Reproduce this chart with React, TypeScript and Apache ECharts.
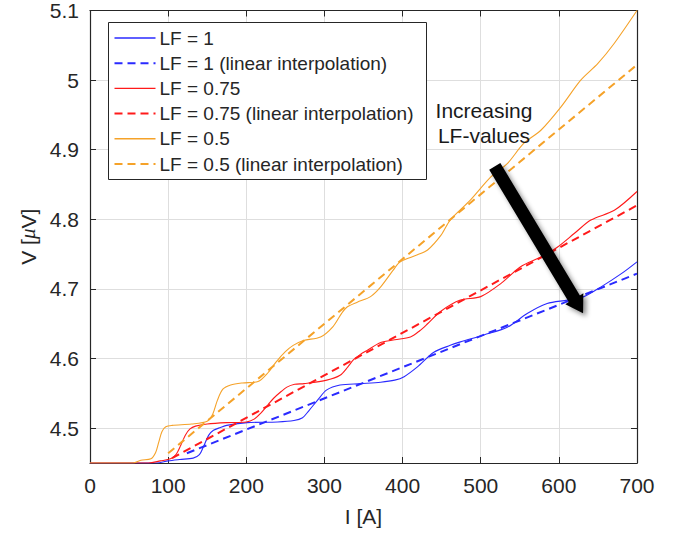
import React, { useEffect, useRef } from "react";
import * as echarts from "echarts";

// ---- data ----
const iBlue = [0, 85, 100, 115, 132, 140, 145, 152, 158, 167, 175, 201, 240, 261, 272, 280, 291, 303, 320, 346, 372, 390, 402, 419, 440, 461, 474, 504, 534, 560, 585, 611, 632, 654, 680, 700];
const vBlue = [4.45, 4.45, 4.453, 4.455, 4.457, 4.462, 4.473, 4.49, 4.497, 4.501, 4.504, 4.508, 4.509, 4.511, 4.515, 4.525, 4.54, 4.555, 4.562, 4.564, 4.566, 4.569, 4.574, 4.588, 4.609, 4.619, 4.624, 4.634, 4.645, 4.665, 4.679, 4.684, 4.689, 4.703, 4.722, 4.739];

const iRed = [0, 75, 90, 103, 110, 116, 122, 128, 135, 150, 175, 200, 210, 218, 228, 235, 245, 252, 262, 274, 303, 320, 330, 337, 346, 355, 372, 390, 410, 422, 432, 449, 474, 500, 526, 551, 577, 598, 620, 641, 671, 700];
const vRed = [4.45, 4.45, 4.453, 4.456, 4.462, 4.475, 4.49, 4.499, 4.503, 4.506, 4.508, 4.509, 4.513, 4.521, 4.534, 4.543, 4.553, 4.559, 4.563, 4.564, 4.569, 4.576, 4.588, 4.598, 4.606, 4.612, 4.623, 4.627, 4.631, 4.64, 4.65, 4.668, 4.684, 4.689, 4.708, 4.732, 4.746, 4.76, 4.78, 4.799, 4.813, 4.84];

const iOrange = [0, 55, 65, 78, 84, 88, 92, 97, 105, 130, 150, 157, 163, 170, 180, 195, 215, 228, 238, 250, 260, 273, 295, 311, 322, 329, 342, 359, 372, 388, 397, 419, 432, 449, 461, 487, 513, 534, 555, 577, 603, 628, 650, 671, 700];
const vOrange = [4.45, 4.45, 4.454, 4.456, 4.465, 4.48, 4.495, 4.502, 4.504, 4.506, 4.51, 4.52, 4.54, 4.556, 4.562, 4.565, 4.567, 4.58, 4.595, 4.61, 4.619, 4.626, 4.631, 4.646, 4.665, 4.674, 4.681, 4.689, 4.703, 4.727, 4.739, 4.749, 4.756, 4.777, 4.799, 4.828, 4.861, 4.88, 4.909, 4.928, 4.962, 5.0, 5.024, 5.053, 5.1];

const iBlueLin = [124, 700];
const vBlueLin = [4.464, 4.722];
const iRedLin = [105, 700];
const vRedLin = [4.457, 4.82];
const iOrangeLin = [100, 700];
const vOrangeLin = [4.464, 5.022];

const yTicks = [4.5, 4.6, 4.7, 4.8, 4.9, 5.0, 5.1];
const seriesNames = [
  "LF = 1",
  "LF = 1 (linear interpolation)",
  "LF = 0.75",
  "LF = 0.75 (linear interpolation)",
  "LF = 0.5",
  "LF = 0.5 (linear interpolation)",
];
const annotationLines = ["Increasing", "LF-values"];
// arrow in data coordinates [I, V]
const arrowTail = [518, 4.876];
const arrowTip = [631, 4.665];

const BLUE = "#2a2aff";
const RED = "#ff1a1a";
const ORANGE = "#f5a229";
const FONT = "'Liberation Sans', Arial, Helvetica, sans-serif";
const TXT = "#262626";

const pairs = (xs: number[], ys: number[]) => xs.map((x, k) => [x, ys[k]]);

export default function App() {
  const ref = useRef<HTMLDivElement>(null);
  useEffect(() => {
    const chart = echarts.init(ref.current!, null, { renderer: "svg" });
    const axisLine = { show: true, onZero: false, lineStyle: { color: TXT, width: 1.2 } };
    const tick = { show: true, inside: true, length: 6, lineStyle: { color: TXT, width: 1 } };
    const grid = { lineStyle: { color: "#dedede", width: 1 } };

    const solid = (name: string, color: string, xs: number[], ys: number[]) => ({
      name,
      type: "line",
      data: pairs(xs, ys),
      symbol: "none",
      smooth: 0.3,
      lineStyle: { color, width: 1.1 },
      itemStyle: { color },
      z: 3,
    });
    const dashed = (name: string, color: string, xs: number[], ys: number[]) => ({
      name,
      type: "line",
      data: pairs(xs, ys),
      symbol: "none",
      lineStyle: { color, width: 2, type: [8, 5] },
      itemStyle: { color },
      z: 4,
    });

    chart.setOption({
      animation: false,
      backgroundColor: "#fff",
      textStyle: { fontFamily: FONT },
      grid: { left: 90, right: 44, top: 10, bottom: 77 },
      xAxis: [
        {
          type: "value",
          min: 0,
          max: 700,
          interval: 100,
          position: "bottom",
          axisLine,
          axisTick: tick,
          axisLabel: { fontSize: 21, color: TXT, margin: 12, fontFamily: FONT },
          splitLine: { show: true, ...grid },
          name: "I [A]",
          nameLocation: "middle",
          nameGap: 43,
          nameTextStyle: { fontSize: 21, color: TXT, fontFamily: FONT },
        },
        {
          type: "value",
          min: 0,
          max: 700,
          interval: 100,
          position: "top",
          axisLine,
          axisTick: tick,
          axisLabel: { show: false },
          splitLine: { show: false },
        },
      ],
      yAxis: [
        {
          type: "value",
          min: 4.45,
          max: 5.1,
          position: "left",
          axisLine,
          axisTick: { ...tick, customValues: yTicks },
          axisLabel: { customValues: yTicks, fontSize: 21, color: TXT, margin: 11, fontFamily: FONT },
          splitLine: { show: true, ...grid },
          name: "{a|V [}{b|μ}{a|V]}",
          nameLocation: "middle",
          nameGap: 50,
          nameTextStyle: {
            rich: {
              a: { fontSize: 21, color: TXT, fontFamily: FONT },
              b: { fontSize: 21, color: TXT, fontFamily: "'Liberation Serif', serif", fontStyle: "italic" },
            },
          },
        },
        {
          type: "value",
          min: 4.45,
          max: 5.1,
          position: "right",
          axisLine,
          axisTick: { ...tick, customValues: yTicks },
          axisLabel: { show: false, customValues: yTicks },
          splitLine: { show: false },
        },
      ],
      series: [
        solid(seriesNames[0], BLUE, iBlue, vBlue),
        dashed(seriesNames[1], BLUE, iBlueLin, vBlueLin),
        solid(seriesNames[2], RED, iRed, vRed),
        dashed(seriesNames[3], RED, iRedLin, vRedLin),
        solid(seriesNames[4], ORANGE, iOrange, vOrange),
        dashed(seriesNames[5], ORANGE, iOrangeLin, vOrangeLin),
      ],
    });

    // ---- legend (drawn box, MATLAB style) ----
    const colors = [BLUE, BLUE, RED, RED, ORANGE, ORANGE];
    const legendChildren: any[] = [
      {
        type: "rect",
        shape: { x: 0, y: 0, width: 318, height: 157 },
        style: { fill: "#fff", stroke: TXT, lineWidth: 1 },
      },
    ];
    seriesNames.forEach((name, k) => {
      const cy = 15.5 + k * 25.2;
      const isDash = k % 2 === 1;
      legendChildren.push({
        type: "line",
        shape: { x1: 6, y1: cy, x2: 47, y2: cy },
        style: { stroke: colors[k], lineWidth: isDash ? 2 : 1.4, lineDash: isDash ? [8, 5] : null },
      });
      legendChildren.push({
        type: "text",
        x: 51,
        y: cy,
        style: { text: name, fontSize: 19, fontFamily: FONT, fill: TXT, verticalAlign: "middle", align: "left" },
      });
    });

    // ---- arrow ----
    const t = chart.convertToPixel({ gridIndex: 0 }, arrowTail) as number[];
    const p = chart.convertToPixel({ gridIndex: 0 }, arrowTip) as number[];
    const dx = p[0] - t[0];
    const dy = p[1] - t[1];
    const len = Math.hypot(dx, dy);
    const ux = dx / len, uy = dy / len;
    const nx = -uy, ny = ux;
    const hw = 6.5, hh = 10.5, hl = 17;
    const bx = p[0] - ux * hl, by = p[1] - uy * hl;
    const arrowPts = [
      [t[0] + nx * hw, t[1] + ny * hw],
      [bx + nx * hw, by + ny * hw],
      [bx + nx * hh, by + ny * hh],
      [p[0], p[1]],
      [bx - nx * hh, by - ny * hh],
      [bx - nx * hw, by - ny * hw],
      [t[0] - nx * hw, t[1] - ny * hw],
    ];

    chart.setOption({
      graphic: [
        { type: "group", left: 108, top: 22, z: 100, children: legendChildren },
        {
          type: "polygon",
          z: 90,
          shape: { points: arrowPts },
          style: {
            fill: "#000",
            shadowBlur: 5,
            shadowColor: "rgba(0,0,0,0.45)",
            shadowOffsetX: 3,
            shadowOffsetY: 3,
          },
        },
        ...annotationLines.map((s, k) => ({
          type: "text",
          z: 95,
          x: 484,
          y: 110 + k * 25,
          style: { text: s, fontSize: 21, fontFamily: FONT, fill: "#1a1a1a", align: "center", verticalAlign: "middle" },
        })),
      ],
    });

    return () => chart.dispose();
  }, []);
  return (
    <div
      ref={ref}
      style={{ position: "fixed", left: 0, top: 0, width: 681, height: 540, background: "#fff" }}
    />
  );
}
